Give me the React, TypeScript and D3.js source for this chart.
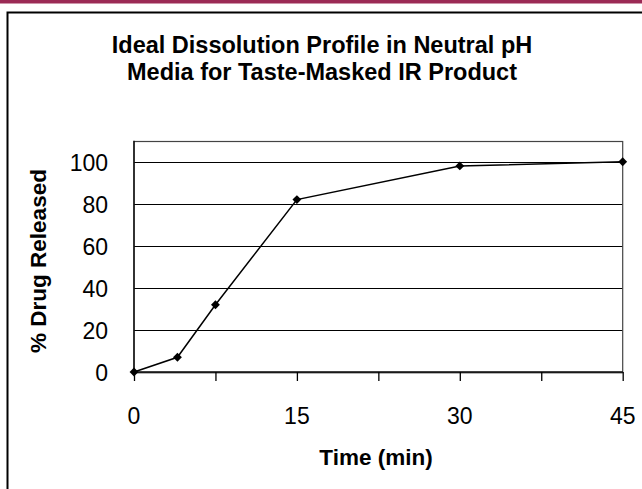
import { useEffect, useRef } from "react";
import * as d3 from "d3";

// dissolution data
const times = [0, 4, 7.5, 15, 30, 45];
const released = [0, 7, 32, 82, 98, 100];
const yTicks = [0, 20, 40, 60, 80, 100];
const xLabels = [0, 15, 30, 45];
const xTickMarks = [0, 7.5, 15, 22.5, 30, 37.5, 45];
const titleLines = ["Ideal Dissolution Profile in Neutral pH", "Media for Taste-Masked IR Product"];

const WIDTH = 642;
const HEIGHT = 489;
const PLOT = { left: 134, right: 622.7, top: 140.7, bottom: 372 };
const FONT = "'Liberation Sans', Arial, sans-serif";

const App = () => {
  const ref = useRef<SVGGElement>(null);

  const xScale = d3.scaleLinear().domain([0, 45]).range([PLOT.left, PLOT.right]);
  const yScale = d3.scaleLinear().domain([0, 110]).range([PLOT.bottom, PLOT.top]);

  useEffect(() => {
    const g = d3.select(ref.current);
    g.selectAll("*").remove();

    // gridlines
    g.append("g")
      .selectAll("line")
      .data(yTicks.filter((d) => d > 0))
      .join("line")
      .attr("x1", PLOT.left)
      .attr("x2", PLOT.right)
      .attr("y1", (d) => Math.round(yScale(d)) + 0.5)
      .attr("y2", (d) => Math.round(yScale(d)) + 0.5)
      .attr("stroke", "#000")
      .attr("stroke-width", 1);

    // plot box
    g.append("rect")
      .attr("x", PLOT.left)
      .attr("y", Math.round(PLOT.top) + 0.5)
      .attr("width", PLOT.right - PLOT.left)
      .attr("height", PLOT.bottom - PLOT.top)
      .attr("fill", "none")
      .attr("stroke", "#444")
      .attr("stroke-width", 1.2);

    // y axis (labels only, line drawn separately)
    const yAxis = d3.axisLeft(yScale).tickValues(yTicks).tickSize(0).tickPadding(26);
    const yg = g.append("g").attr("transform", `translate(${PLOT.left},0)`).call(yAxis);
    yg.select(".domain").remove();
    yg.selectAll("text")
      .attr("font-family", FONT)
      .attr("font-size", 23)
      .attr("fill", "#000")
      .attr("dy", "0.36em");

    g.append("line")
      .attr("x1", PLOT.left)
      .attr("x2", PLOT.left)
      .attr("y1", PLOT.top)
      .attr("y2", PLOT.bottom)
      .attr("stroke", "#000")
      .attr("stroke-width", 1.3);

    // x axis
    const xAxis = d3.axisBottom(xScale).tickValues(xTickMarks).tickSize(9).tickFormat(() => "");
    const xg = g.append("g").attr("transform", `translate(0,${PLOT.bottom})`).call(xAxis);
    xg.select(".domain").attr("stroke", "#000").attr("stroke-width", 1.3).attr("d", `M${PLOT.left},0H${PLOT.right}`);
    xg.selectAll(".tick line").attr("stroke", "#000").attr("stroke-width", 1.3);

    g.append("g")
      .selectAll("text")
      .data(xLabels)
      .join("text")
      .attr("x", (d) => xScale(d))
      .attr("y", 424)
      .attr("text-anchor", "middle")
      .attr("font-family", FONT)
      .attr("font-size", 23)
      .text((d) => d);

    // series
    const pts = times.map((t, i) => [t, released[i]] as [number, number]);
    const line = d3
      .line<[number, number]>()
      .x((d) => xScale(d[0]))
      .y((d) => yScale(d[1]));
    g.append("path")
      .attr("d", line(pts))
      .attr("fill", "none")
      .attr("stroke", "#000")
      .attr("stroke-width", 1.5);

    const diamond = d3.symbol().type(d3.symbolDiamond2).size(50);
    g.append("g")
      .selectAll("path")
      .data(pts)
      .join("path")
      .attr("transform", (d) => `translate(${xScale(d[0])},${yScale(d[1])})`)
      .attr("d", diamond())
      .attr("fill", "#000");
  }, []);

  return (
    <svg
      width={WIDTH}
      height={HEIGHT}
      style={{ position: "absolute", left: 0, top: 0, background: "#fff" }}
    >
      <rect x={0} y={0} width={WIDTH} height={3.5} fill="#9b2a55" />
      <rect x={7.5} y={12.5} width={WIDTH} height={HEIGHT} fill="#fff" stroke="#000" strokeWidth={2} />
      {titleLines.map((t, i) => (
        <text
          key={t}
          x={322}
          y={53 + i * 26.5}
          textAnchor="middle"
          fontFamily={FONT}
          fontWeight="bold"
          fontSize={23.5}
        >
          {t}
        </text>
      ))}
      <g ref={ref} />
      <text
        transform="translate(46,261) rotate(-90)"
        textAnchor="middle"
        fontFamily={FONT}
        fontWeight="bold"
        fontSize={22.5}
      >
        % Drug Released
      </text>
      <text x={376} y={465} textAnchor="middle" fontFamily={FONT} fontWeight="bold" fontSize={22.5}>
        Time (min)
      </text>
    </svg>
  );
};

export default App;
